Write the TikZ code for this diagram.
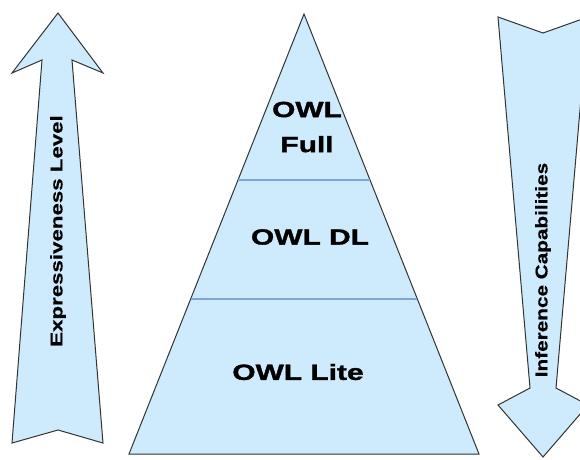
\documentclass[tikz,border=0pt]{standalone}
\usepackage{fontspec}
\newfontfamily\levelfont[FakeStretch=1.36,FakeBold=1.6]{Liberation Sans}
\newfontfamily\expfont[FakeStretch=1.31,FakeBold=0.6]{Liberation Sans}
\newfontfamily\inffont[FakeStretch=1.22,FakeBold=0.6]{Liberation Sans}
\definecolor{paleblue}{HTML}{CDEBFD}
\definecolor{outline}{HTML}{333333}
\definecolor{divider}{HTML}{7FA5D6}
\tikzset{
  solid shape/.style={fill=paleblue, draw=outline, line width=1pt, line join=miter},
  layerline/.style={draw=divider},
  layerlabel/.style={font=\levelfont\bfseries\fontsize{22}{35}\selectfont, align=center, inner sep=0pt},
  sidelabel/.style={inner sep=0pt, rotate=90}
}
\begin{document}
\begin{tikzpicture}[x=1pt, y=-1pt]
  \useasboundingbox (0,0) rectangle (580,459);
  \clip (0,0) rectangle (580,459);
  \fill[white] (0,0) rectangle (580,459);

  % upward arrow on the left
  \draw[solid shape] (58,13) -- (103,73) -- (72,60) -- (103,443) -- (58,430)
    -- (12,443) -- (42,60) -- (12,73) -- cycle;
  \node[sidelabel, font=\expfont\bfseries\fontsize{17}{20}\selectfont] (expr) at (58,231) {Expressiveness Level};

  % downward arrow on the right
  \draw[solid shape] (498,17) -- (543,33) -- (588,17) -- (556,388) -- (588,405)
    -- (543,457) -- (498,405) -- (530,388) -- cycle;
  \node[sidelabel, font=\inffont\bfseries\fontsize{17}{20}\selectfont] (infer) at (543,270) {Inference Capabilities};

  % the pyramid of OWL sublanguages
  \draw[solid shape] (304,14) -- (479,454) -- (129,454) -- cycle;
  \coordinate (upL) at (238,180);
  \coordinate (upR) at (370,180);
  \coordinate (loL) at (191,299);
  \coordinate (loR) at (417,299);
  \draw[layerline, line width=1.8pt] (upL) -- (upR);
  \draw[layerline, line width=2.6pt] (loL) -- (loR);

  \node[layerlabel] (full) at (307,127) {OWL\\Full};
  \node[layerlabel] (dl) at (310,237) {OWL DL};
  \node[layerlabel] (lite) at (298,372) {OWL Lite};
\end{tikzpicture}
\end{document}
